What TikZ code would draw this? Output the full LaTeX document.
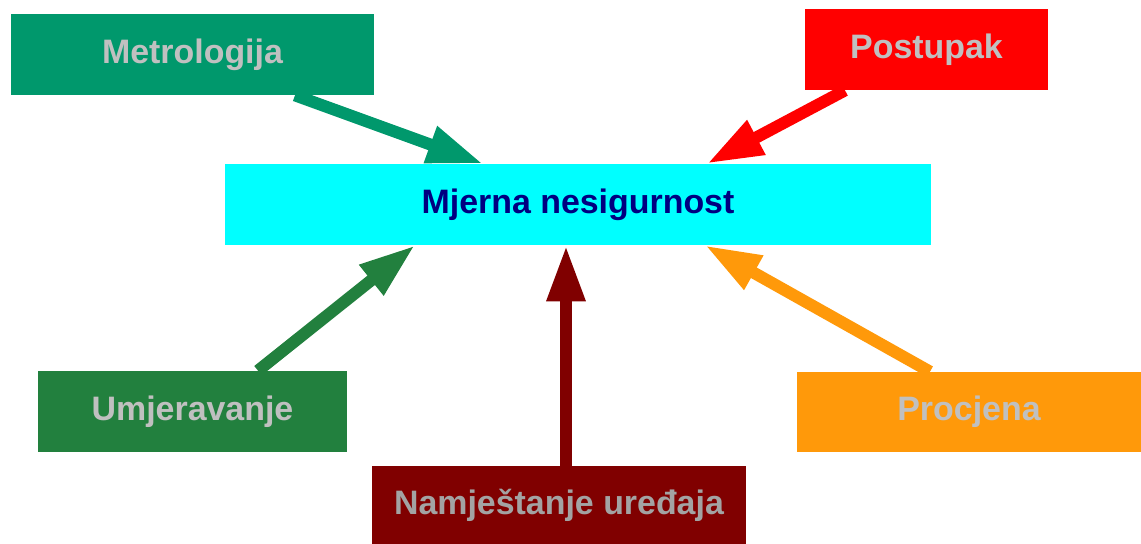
\documentclass[tikz,border=0pt]{standalone}
\usepackage{fontspec}
\setmainfont{Liberation Sans}
\usepackage{xcolor}
\usepackage{tikz}
\usetikzlibrary{positioning,arrows.meta}

\definecolor{metrocol}{RGB}{0,152,108}
\definecolor{umjercol}{RGB}{34,128,62}
\definecolor{namjcol}{RGB}{128,0,0}
\definecolor{procjcol}{RGB}{255,153,10}
\definecolor{nesigcol}{RGB}{0,255,255}
\definecolor{navycol}{RGB}{0,0,128}
\definecolor{lblcol}{RGB}{192,192,192}

\begin{document}
\begin{tikzpicture}[
box/.style={rectangle,inner sep=0pt,minimum height=1.62cm,
    font=\fontsize{19.3}{23}\selectfont\bfseries,text=lblcol},
arr/.style={line width=0.24cm,-{Triangle[length=1.12cm,width=0.72cm]}}]
\useasboundingbox (0,0) rectangle (22.82,-10.88);
\node (nesig) [box,fill=nesigcol,text=navycol,minimum width=14.12cm]
    at (11.56,-4.09) {Mjerna nesigurnost};
\node (metro) [box,fill=metrocol,minimum width=7.26cm] at (3.85,-1.09) {Metrologija};
\node (postup) [box,fill=red,minimum width=4.86cm] at (18.53,-0.99) {Postupak};
\node (umjer) [box,fill=umjercol,minimum width=6.18cm] at (3.85,-8.23) {Umjeravanje};
\node (namjest) [box,fill=namjcol,text=lblcol!85!black,minimum width=7.48cm,
    minimum height=1.56cm] at (11.18,-10.10) {Namještanje uređaja};
\node (procj) [box,fill=procjcol,minimum width=6.88cm,minimum height=1.6cm]
    at (19.38,-8.24) {Procjena};
% arrows into the centre box
\draw [arr,metrocol] ([xshift=2.05cm]metro.south) -- ([xshift=-1.9cm]nesig.north);
\draw [arr,red] ([xshift=-1.63cm]postup.south) -- ([xshift=2.58cm]nesig.north);
\draw [arr,umjercol] ([xshift=1.31cm]umjer.north) -- ([xshift=-3.26cm]nesig.south);
\draw [arr,namjcol] ([xshift=0.14cm]namjest.north) -- ([xshift=-0.24cm]nesig.south);
\draw [arr,procjcol] ([xshift=-0.78cm]procj.north) -- ([xshift=2.54cm]nesig.south);
\end{tikzpicture}
\end{document}
